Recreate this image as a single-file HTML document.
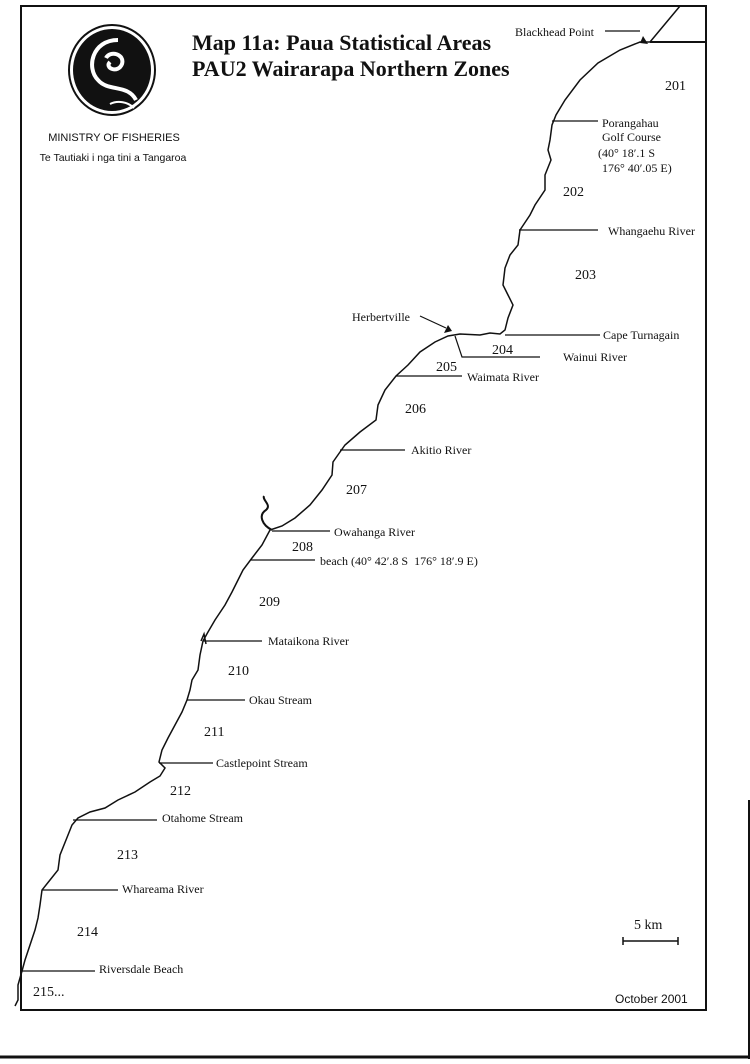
<!DOCTYPE html>
<html><head><meta charset="utf-8"><style>
body{margin:0;background:#fff;}
svg text{font-family:"Liberation Serif",serif;fill:#111;}
</style></head><body>
<svg width="750" height="1059" viewBox="0 0 750 1059" xmlns="http://www.w3.org/2000/svg">
<rect x="21" y="6" width="685" height="1004" fill="none" stroke="#111" stroke-width="2"/>
<line x1="0" y1="1057" x2="750" y2="1057" stroke="#111" stroke-width="3"/>
<line x1="749" y1="800" x2="749" y2="1059" stroke="#111" stroke-width="2"/>
<!-- logo -->
<ellipse cx="112" cy="70" rx="43" ry="45" fill="#fff" stroke="#111" stroke-width="2"/>
<ellipse cx="112" cy="70" rx="39" ry="41" fill="#111"/>
<path d="M118 40 C92 40 86 68 98 80 C108 92 128 84 136 100 M106 58 C110 50 125 54 122 64 C118 74 104 68 110 62" fill="none" stroke="#fff" stroke-width="4"/>
<path d="M110 104 C118 100 128 102 134 108" fill="none" stroke="#fff" stroke-width="2"/>
<text x="114" y="141" font-size="11" text-anchor="middle" style="font-family:'Liberation Sans',sans-serif">MINISTRY OF FISHERIES</text>
<text x="113" y="161" font-size="10.5" text-anchor="middle" style="font-family:'Liberation Sans',sans-serif">Te Tautiaki i nga tini a Tangaroa</text>
<text x="192" y="50" font-size="22" font-weight="bold">Map 11a: Paua Statistical Areas</text>
<text x="192" y="76" font-size="22" font-weight="bold">PAU2 Wairarapa Northern Zones</text>
<!-- coastline -->
<path d="M680 6 L660 30 L650 42 L640 42 L620 50 L598 63 L580 80 L565 100 L556 115 L552 125 L550 140 L548 150 L551 160 L545 175 L545 190 L535 205 L530 215 L520 230 L518 245 L510 255 L505 268 L503 285 L508 295 L513 305 L508 318 L505 330 L500 334 L490 333 L480 335 L460 334 L448 336 L435 342 L420 352 L408 365 L396 376 L385 390 L378 405 L376 420 L360 432 L345 445 L340 452 L333 462 L332 475 L322 490 L310 505 L295 518 L282 526 L270 530 L262 545 L252 558 L243 570 L238 580 L232 592 L225 605 L215 620 L208 632 L203 641 L200 655 L198 670 L192 680 L190 690 L187 700 L182 712 L175 725 L168 738 L162 750 L159 762 L165 768 L160 776 L150 782 L135 792 L118 800 L105 808 L90 812 L78 818 L72 825 L66 840 L60 855 L58 870 L50 880 L42 890 L40 905 L38 918 L35 930 L30 945 L25 960 L22 971 L18 985 L18 1000 L15 1006" fill="none" stroke="#111" stroke-width="1.5"/>
<path d="M272 530 C262 525 258 515 266 510 C272 505 262 500 264 496" fill="none" stroke="#111" stroke-width="2"/>
<path d="M201 641 L204 634 L206 644" fill="none" stroke="#111" stroke-width="1.5"/>
<!-- boundaries -->
<line x1="650" y1="42" x2="706" y2="42" stroke="#111" stroke-width="2"/>
<g stroke="#111" stroke-width="1.2">
<line x1="552" y1="121" x2="598" y2="121"/>
<line x1="519" y1="230" x2="598" y2="230"/>
<line x1="505" y1="335" x2="600" y2="335"/>
<polyline points="455,336 462,357 540,357" fill="none"/>
<line x1="396" y1="376" x2="462" y2="376"/>
<line x1="340" y1="450" x2="405" y2="450"/>
<line x1="272" y1="531" x2="330" y2="531"/>
<line x1="250" y1="560" x2="315" y2="560"/>
<line x1="203" y1="641" x2="262" y2="641"/>
<line x1="187" y1="700" x2="245" y2="700"/>
<line x1="159" y1="763" x2="213" y2="763"/>
<line x1="73" y1="820" x2="157" y2="820"/>
<line x1="42" y1="890" x2="118" y2="890"/>
<line x1="22" y1="971" x2="95" y2="971"/>
<line x1="605" y1="31" x2="640" y2="31"/>
<line x1="420" y1="316" x2="446" y2="328"/>
</g>
<path d="M643 36 L648 44 L640 43 Z" fill="#111"/>
<path d="M452 331 L444 333 L448 325 Z" fill="#111"/>
<g font-size="12">
<text x="515" y="36">Blackhead Point</text>
<text x="602" y="127">Porangahau</text>
<text x="602" y="141">Golf Course</text>
<text x="598" y="157">(40° 18′.1 S</text>
<text x="602" y="172">176° 40′.05 E)</text>
<text x="608" y="235">Whangaehu River</text>
<text x="603" y="339">Cape Turnagain</text>
<text x="563" y="361">Wainui River</text>
<text x="467" y="381">Waimata River</text>
<text x="411" y="454">Akitio River</text>
<text x="334" y="536">Owahanga River</text>
<text x="320" y="565">beach (40° 42′.8 S&#160; 176° 18′.9 E)</text>
<text x="268" y="645">Mataikona River</text>
<text x="249" y="704">Okau Stream</text>
<text x="216" y="767">Castlepoint Stream</text>
<text x="162" y="822">Otahome Stream</text>
<text x="122" y="893">Whareama River</text>
<text x="99" y="973">Riversdale Beach</text>
<text x="352" y="321">Herbertville</text>
</g>
<g font-size="14">
<text x="665" y="90">201</text>
<text x="563" y="196">202</text>
<text x="575" y="279">203</text>
<text x="492" y="354">204</text>
<text x="436" y="371">205</text>
<text x="405" y="413">206</text>
<text x="346" y="494">207</text>
<text x="292" y="551">208</text>
<text x="259" y="606">209</text>
<text x="228" y="675">210</text>
<text x="204" y="736">211</text>
<text x="170" y="795">212</text>
<text x="117" y="859">213</text>
<text x="77" y="936">214</text>
<text x="33" y="996">215...</text>
<text x="634" y="929">5 km</text>
</g>
<g stroke="#111" stroke-width="1.5"><line x1="623" y1="941" x2="678" y2="941"/><line x1="623" y1="937" x2="623" y2="945"/><line x1="678" y1="937" x2="678" y2="945"/></g>
<text x="615" y="1003" font-size="12" style="font-family:'Liberation Sans',sans-serif">October 2001</text>
</svg>
</body></html>
